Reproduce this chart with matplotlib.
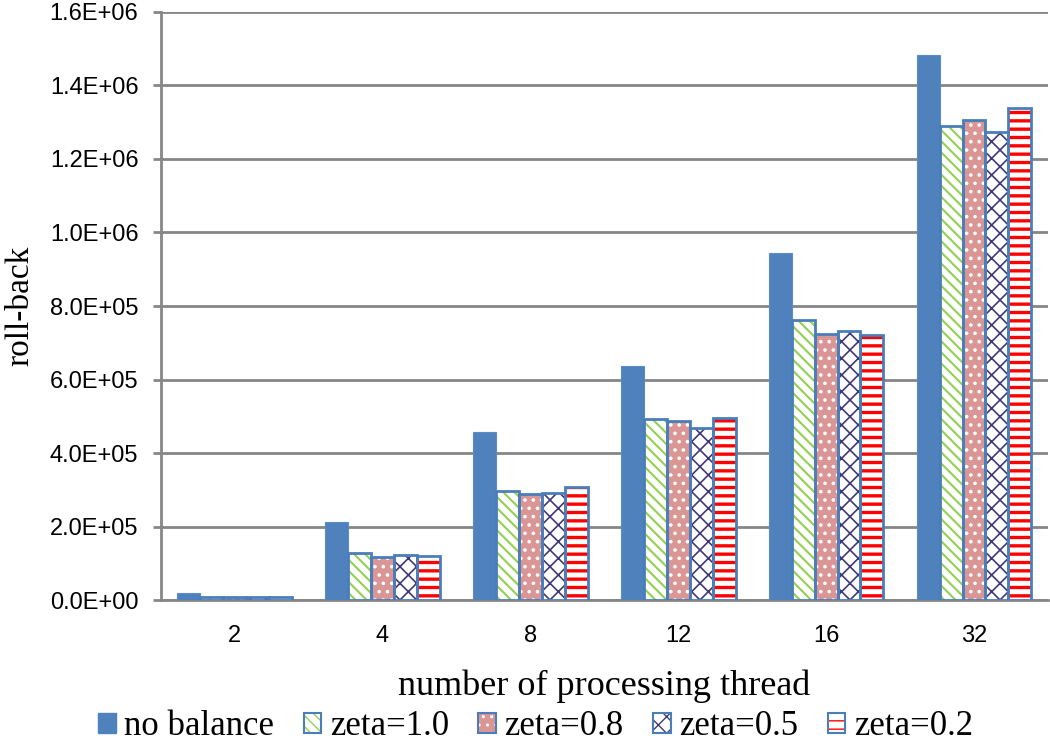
import matplotlib
matplotlib.use('Agg')
import matplotlib.pyplot as plt
from matplotlib.ticker import FuncFormatter, MultipleLocator
from matplotlib.patches import Patch
import numpy as np

# data
threads = ['2', '4', '8', '12', '16', '32']
no_balance = [19000, 212000, 457000, 637000, 944000, 1483000]
zeta_10 = [9000, 128000, 297000, 493000, 762000, 1290000]
zeta_08 = [8000, 117000, 288000, 487000, 724000, 1306000]
zeta_05 = [9000, 122000, 291000, 468000, 732000, 1273000]
zeta_02 = [10000, 120000, 307000, 495000, 721000, 1339000]
series_names = ['no balance', 'zeta=1.0', 'zeta=0.8', 'zeta=0.5', 'zeta=0.2']

BLUE = '#4F81BD'
OUTLINE = '#4A7EBB'
GRID = '#868686'

# (face, hatch, hatch colour, hatch linewidth)
styles = [
    (BLUE, None, None, 1.0),
    ('white', '\\\\\\', '#92D050', 1.5),
    ('#D99694', '..', 'white', 1.4),
    ('white', 'xx', '#403978', 1.2),
    ('white', '--', '#FF0000', 2.4),
]

fig = plt.figure(figsize=(10.5, 7.41), dpi=100)
ax = fig.add_axes([0.153, 0.19, 0.845, 0.794])

x = np.arange(len(threads))
w = 0.155
values = [no_balance, zeta_10, zeta_08, zeta_05, zeta_02]
handles = []
for k, (vals, (face, hatch, hcol, hlw)) in enumerate(zip(values, styles)):
    pos = x + (k - 2) * w
    if hatch is None:
        ax.bar(pos, vals, w, color=face, edgecolor='#5B8CC8', linewidth=0.8, zorder=3)
        handles.append(Patch(facecolor=face, edgecolor=face))
    else:
        with plt.rc_context({'hatch.linewidth': hlw}):
            ax.bar(pos, vals, w, color=face, edgecolor=hcol, hatch=hatch, linewidth=0, zorder=3)
            ax.bar(pos, vals, w, fill=False, edgecolor=OUTLINE, linewidth=2, zorder=4)
            h1 = Patch(facecolor=face, edgecolor=hcol, hatch=hatch, linewidth=0)
        h2 = Patch(fill=False, edgecolor=OUTLINE, linewidth=1.5)
        handles.append((h1, h2))

ax.set_xlim(-0.5, len(threads) - 0.5)
ax.set_ylim(0, 1.6e6)
ax.yaxis.set_major_locator(MultipleLocator(2e5))
ax.yaxis.set_major_formatter(FuncFormatter(lambda v, p: '%.1E' % v))
ax.set_xticks(x)
ax.set_xticklabels(threads)

ax.grid(axis='y', color=GRID, linewidth=2, zorder=0)
ax.set_axisbelow(True)
for s in ['top', 'right']:
    ax.spines[s].set_visible(False)
for s in ['left', 'bottom']:
    ax.spines[s].set_color(GRID)
    ax.spines[s].set_linewidth(2)
ax.tick_params(axis='y', length=6, width=2, color=GRID, labelsize=17, pad=10)
ax.tick_params(axis='x', length=0, labelsize=17, pad=18)
for lab in ax.get_xticklabels() + ax.get_yticklabels():
    lab.set_fontfamily('Liberation Sans')

ax.set_xlabel('number of processing thread', fontsize=26, family='Liberation Serif', labelpad=16)
ax.set_ylabel('roll-back', fontsize=24, family='Liberation Serif', labelpad=10)

fig.legend(handles, series_names, loc='lower center', bbox_to_anchor=(0.51, -0.045), ncol=5,
           frameon=False, prop={'family': 'Liberation Serif', 'size': 25},
           handlelength=0.5, handleheight=0.5, handletextpad=0.25, columnspacing=0.85)

fig.savefig('out.png', dpi=100, facecolor='white')
